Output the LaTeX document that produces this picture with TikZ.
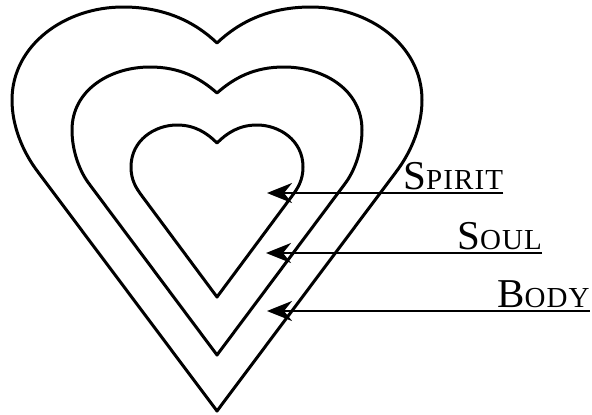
\documentclass[tikz,border=0pt]{standalone}
\usepackage{fontspec}
\setmainfont{Liberation Serif}
\usetikzlibrary{arrows.meta}
\tikzset{
  heartline/.style={line width=3pt, line join=round},
  pointer/.style={line width=2.6pt, -{Stealth[length=25pt,width=20pt,inset=8pt]}},
  label/.style={inner sep=0pt, anchor=base west},
}
\newcommand{\initcap}[1]{{\fontsize{41}{41}\selectfont #1}}
\newcommand{\restcap}[1]{{\fontsize{29}{29}\selectfont\addfontfeature{LetterSpace=4}#1}}
\begin{document}
\begin{tikzpicture}[x=1pt,y=-1pt]
\useasboundingbox (0,0) rectangle (592,415);
% outer heart
\draw[heartline] (217,411) -- (38,172) .. controls (22,151) and (12,125) .. (12,100)
  .. controls (12,45) and (65,7) .. (123,7)
  .. controls (165,7) and (195,22) .. (217,43)
  .. controls (239,22) and (269,7) .. (311,7)
  .. controls (369,7) and (422,45) .. (422,100)
  .. controls (422,125) and (412,151) .. (396,172) -- cycle;
% middle heart
\draw[heartline] (217,355) -- (90,185) .. controls (79,171) and (72,150) .. (72,130)
  .. controls (72,90) and (110,67) .. (150,67)
  .. controls (180,67) and (200,78) .. (217,93)
  .. controls (234,78) and (254,67) .. (284,67)
  .. controls (324,67) and (362,90) .. (362,130)
  .. controls (362,150) and (355,171) .. (344,185) -- cycle;
% inner heart
\draw[heartline] (217,297) -- (142,196) .. controls (136,188) and (131,180) .. (131,167)
  .. controls (131,140) and (155,125) .. (177,125)
  .. controls (195,125) and (207,133) .. (217,143)
  .. controls (227,133) and (239,125) .. (257,125)
  .. controls (279,125) and (303,140) .. (303,167)
  .. controls (303,180) and (298,188) .. (292,196) -- cycle;
% labels
\node[label] (spirit) at (403,189) {\initcap{S}\restcap{PIRIT}};
\node[label] (soul) at (457,249) {\initcap{S}\restcap{OUL}};
\node[label] (body) at (497,307) {\initcap{B}\restcap{ODY}};
\coordinate (spiritTip) at (267,193);
\coordinate (soulTip) at (266,253);
\coordinate (bodyTip) at (267,311);
\draw[pointer] ([yshift=-4pt]spirit.base east) -- (spiritTip);
\draw[pointer] ([yshift=-4pt]soul.base east) -- (soulTip);
\draw[pointer] ([yshift=-4pt]body.base east) -- (bodyTip);
\end{tikzpicture}
\end{document}
